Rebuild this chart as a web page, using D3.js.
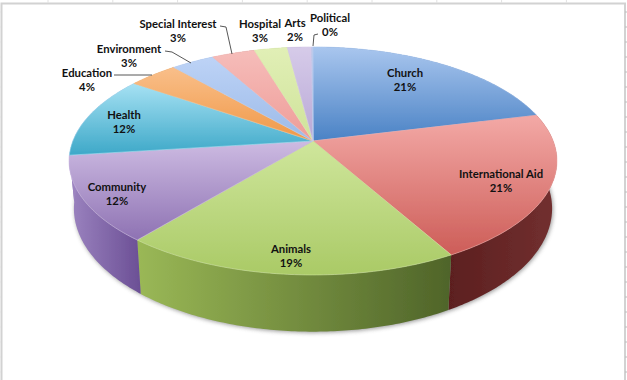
<!DOCTYPE html>
<html><head><meta charset="utf-8">
<script src="https://cdn.jsdelivr.net/npm/d3@7"></script>
<style>html,body{margin:0;padding:0;background:#fff}svg{display:block}</style>
</head><body><div id="c"></div>
<script>
// Data
const categories=["Church","International Aid","Animals","Community","Health","Education","Environment","Special Interest","Hospital","Arts","Political"];
const shares=[21.1,20.8,19,12.1,11.7,3.9,3.4,3.4,2.6,1.9,0.1];

// Styling
const topLight=["#a9c6ee","#f3a9a6","#cfe69c","#cdbbe2","#a6e1f3","#f9bf8a","#bdd3f6","#f6bdba","#e1efb6","#d6cbe9","#bccbed"];
const topDark =["#4a82c5","#cd5d58","#aaca66","#8e72b3","#3da8c8","#f09847","#9cbae8","#ee9c98","#cfe39a","#b9a8d6","#a8bce4"];
const sideLeft=["#4a7ab5","#5c1f1f","#9ab856","#9c84c0","#9c84c0","#d98a3f","#8aa6d0","#c98a86","#b0c880","#9f8fc0","#8aa0c8"];
const sideRight=["#2f5a90","#723030","#4f6429","#6b4f95","#9c84c0","#b06f30","#6f8cb8","#a06a66","#90a860","#7f6fa0","#7088b0"];
const labelAt=[[405,73],[501,174],[291,249],[117,187],[124,115],[87,73],[129,49],[178,24],[260,24],[295,23],[330,18]];
const leaders={5:[[114,75],[152,75]],6:[[165,51],[172,52],[191,63]],7:[[220,26],[226,27],[232,54]],10:[[318,34],[314,35],[313,46]]};
const W=627,H=380;

// Perspective projection of the pie disc
const cx=313,cy=141,B=240.2,A=110.5,k=0.175;
const proj=(a,r=1)=>{const u=Math.sin(a)*r,v=-Math.cos(a)*r;const s=1/(1-k*v);return [cx+B*u*s,cy+A*v*s];};
const low=([x,y])=>[cx+(x-cx)*0.98,cy+(y-cy)*1.08+46];

const svg=d3.select("#c").append("svg").attr("width",W).attr("height",H).attr("viewBox",[0,0,W,H]);
const defs=svg.append("defs");
defs.append("filter").attr("id","soft").append("feGaussianBlur").attr("stdDeviation",0.35);
const sh=defs.append("filter").attr("id","shadow").attr("x","-10%").attr("y","-10%").attr("width","120%").attr("height","120%");
sh.append("feGaussianBlur").attr("stdDeviation",2.2);

// Sheet frame
const frame=svg.append("g").attr("stroke","#d2d2d2").attr("fill","none");
frame.append("path").attr("stroke-width",2).attr("d",`M1.5 ${H}V3.5H625V${H}`);
d3.range(48,W-50,64.8).forEach(x=>frame.append("line").attr("x1",x).attr("x2",x).attr("y1",0).attr("y2",3).attr("stroke","#e2e2e2"));
d3.range(12,H,15).forEach(y=>{
  frame.append("line").attr("x1",625).attr("x2",627).attr("y1",y).attr("y2",y).attr("stroke","#bcbcbc");
  frame.append("line").attr("x1",0).attr("x2",1).attr("y1",y).attr("y2",y).attr("stroke","#e2e2e2");
});

const arcs=d3.pie().sort(null).startAngle(0).endAngle(2*Math.PI)(shares);
const pts=d=>{const n=Math.max(2,Math.ceil((d.endAngle-d.startAngle)*80));return d3.range(n+1).map(i=>d.startAngle+(d.endAngle-d.startAngle)*i/n);};
const line=d3.line().curve(d3.curveLinear);

arcs.forEach((d,i)=>{
  const g=defs.append("linearGradient").attr("id","t"+i).attr("x1",0).attr("y1",0).attr("x2",0).attr("y2",1);
  g.append("stop").attr("offset",0).attr("stop-color",topLight[i]);
  g.append("stop").attr("offset",1).attr("stop-color",topDark[i]);
  const s=defs.append("linearGradient").attr("id","s"+i).attr("x1",0).attr("y1",0).attr("x2",1).attr("y2",0);
  s.append("stop").attr("offset",0).attr("stop-color",sideLeft[i]);
  s.append("stop").attr("offset",1).attr("stop-color",sideRight[i]);
});

// Soft shadow under the pie
const circle=d3.range(0,2*Math.PI,0.02);
svg.append("path").attr("d",line(circle.map(a=>low(proj(a))).map(([x,y])=>[x+1,y+1]))+"Z")
  .attr("fill","#777").attr("opacity",0.75).attr("filter","url(#shadow)");

const pie=svg.append("g").attr("filter","url(#soft)");
// Outer wall
pie.selectAll("path.wall").data(arcs).join("path").attr("class","wall")
  .attr("fill",(d,i)=>`url(#s${i})`)
  .attr("d",d=>{const p=pts(d).map(a=>proj(a));return line(p.concat(p.slice().reverse().map(low)))+"Z";});
// Top face
pie.selectAll("path.face").data(arcs).join("path").attr("class","face")
  .attr("fill",(d,i)=>`url(#t${i})`)
  .attr("stroke",(d,i)=>topLight[i]).attr("stroke-width",0.6).attr("stroke-linejoin","round")
  .attr("d",d=>line([[cx,cy]].concat(pts(d).map(a=>proj(a))))+"Z");

// Leader lines
svg.append("g").selectAll("path").data(Object.values(leaders)).join("path")
  .attr("d",d=>line(d)).attr("fill","none").attr("stroke","#444").attr("stroke-width",0.9);

// Labels
const lab=svg.append("g").attr("font-family","Lato, 'Open Sans', sans-serif").attr("font-weight",700)
  .attr("font-size",11.3).attr("fill","#111").attr("text-anchor","middle");
const fmt=v=>d3.format(".0f")(v)+"%";
categories.forEach((c,i)=>{
  const [x,y]=labelAt[i];
  lab.append("text").attr("x",x).attr("y",y+4).text(c);
  lab.append("text").attr("x",x).attr("y",y+18).text(fmt(shares[i]));
});
</script></body></html>
